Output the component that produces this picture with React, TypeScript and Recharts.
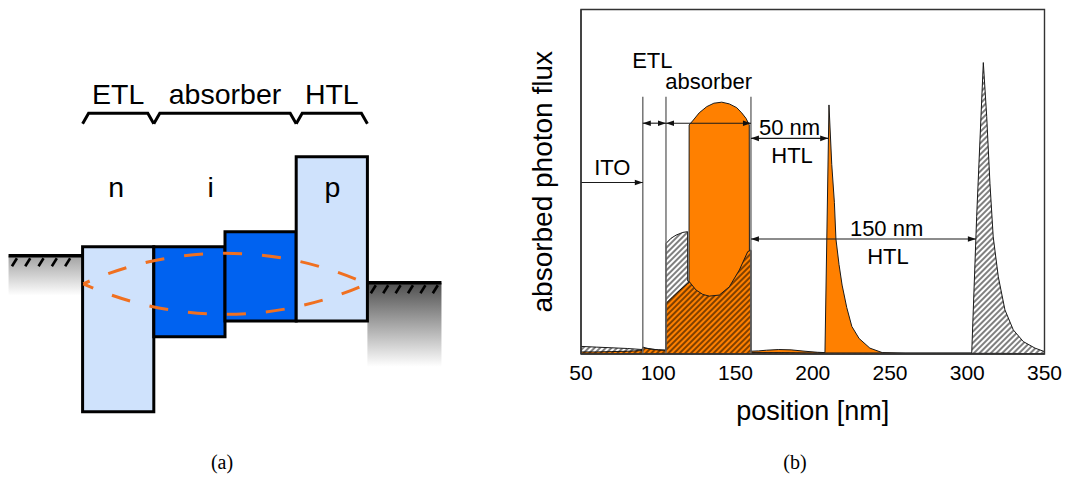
import React from 'react';
import {
  ComposedChart,
  Area,
  XAxis,
  YAxis,
  ReferenceArea,
  ReferenceLine,
  ReferenceDot,
  Label,
} from 'recharts';

const SANS = '"Liberation Sans", Arial, Helvetica, sans-serif';
const SERIF = '"Liberation Serif", "Times New Roman", serif';

// ---------------- (a) energy levels of the n-i-p stack ----------------
// x: layer index units, y: energy in eV
const layerStart = [0, 1, 2, 3];
const layerEnd = [1, 2, 3, 4];
const layerUpper = [-4.29, -4.29, -4.09, -3.09];
const layerLower = [-6.49, -5.49, -5.28, -5.28];
const layerIsAbsorber = [false, true, true, false];

const stackNames = ['ETL', 'absorber', 'HTL'];
const stackStart = [0, 1, 3];
const stackEnd = [1, 3, 4];

const dopingNames = ['n', 'i', 'p'];
const dopingPos = [0.47, 1.8, 3.51];
const dopingLevel = -3.627;

const contactStart = [-1.04, 4];
const contactEnd = [0, 5.04];
const contactFermi = [-4.41, -4.77];
const contactShadeTo = [-4.94, -5.89];

const modeStart = 0.01;
const modeEnd = 3.99;
const modeUpper = -4.377;
const modeLower = -5.191;

const braceUpper = -2.511;
const braceLower = -2.649;

// ---------------- (b) absorbed photon flux vs. position ----------------
const positionTicks = [50, 100, 150, 200, 250, 300, 350];
const interfaces = [90, 105, 160];
const interfaceTop = 0.747;

// 50 nm HTL (orange)
const thinHtlPos = [
  50, 60, 70, 80, 89.5, 90, 92, 96, 100, 104.9, 105, 109.3, 113.6, 119.0, 119.9, 120.0,
  122.7, 126.5, 131.4, 136, 141.1, 146, 150.8, 154, 156.8, 158.9, 159.0, 160.0, 160.01,
  165, 170, 178, 186, 195, 203, 207.9, 210.5, 212.3, 214.0, 215.0, 217, 219, 222, 225.3,
  230, 237, 245, 260, 280, 300, 320, 350,
];
const thinHtlFlux = [
  0.006, 0.006, 0.007, 0.008, 0.01, 0.02, 0.017, 0.014, 0.012, 0.011, 0.147, 0.166, 0.184,
  0.205, 0.207, 0.665, 0.679, 0.7, 0.718, 0.728, 0.731, 0.726, 0.715, 0.7, 0.684, 0.665,
  0.3, 0.3, 0.008, 0.009, 0.011, 0.013, 0.012, 0.008, 0.005, 0.004, 0.723, 0.55, 0.44,
  0.334, 0.26, 0.2, 0.135, 0.08, 0.045, 0.017, 0.004, 0.002, 0.002, 0.002, 0.002, 0.001,
];

// 150 nm HTL (hatched)
const thickHtlPos = [
  50, 60, 70, 80, 89.5, 90, 92, 96, 100, 104.9, 105, 108.3, 111.5, 115.9, 119.0, 119.05,
  120.1, 124.4, 128.8, 133.0, 139.5, 146.0, 152.5, 157.9, 160.0, 160.01, 180, 200, 250,
  302.9, 306.1, 310.4, 312.6, 314.7, 316.8, 320.1, 324.4, 329.8, 336.3, 343.9, 350,
];
const thickHtlFlux = [
  0.022, 0.02, 0.018, 0.016, 0.013, 0.02, 0.017, 0.014, 0.012, 0.011, 0.321, 0.336, 0.345,
  0.353, 0.355, 0.212, 0.21, 0.186, 0.173, 0.168, 0.171, 0.195, 0.244, 0.297, 0.302, 0.004,
  0.004, 0.003, 0.003, 0.003, 0.4, 0.846, 0.689, 0.495, 0.34, 0.224, 0.128, 0.07, 0.036,
  0.017, 0.007,
];

// thickness arrows
const spanFrom = [50, 90, 105, 160, 160];
const spanTo = [90, 105, 160, 210, 305.6];
const spanLevel = [0.498, 0.67, 0.67, 0.626, 0.334];
const spanHeads = ['end', 'both', 'both', 'both', 'both'];

const noteText = ['ITO', 'ETL', 'absorber', '50 nm', 'HTL', '150 nm', 'HTL'];
const noteX = [70.3, 96.2, 132.65, 185.0, 186.6, 247.8, 248.7];
const noteY = [0.5196, 0.829, 0.768, 0.636, 0.555, 0.3425, 0.261];

const fluxRows = [
  ...thinHtlPos.map((x, i) => ({ x, thin: thinHtlFlux[i], thick: null as number | null })),
  ...thickHtlPos.map((x, i) => ({ x, thin: null as number | null, thick: thickHtlFlux[i] })),
].sort((a, b) => a.x - b.x);

const bandRows = layerStart.map((x, i) => ({ x, e: layerUpper[i] }));

// ---------------- shapes ----------------
const LIGHT_BLUE = '#cfe2fc';
const DARK_BLUE = '#0062f0';
const ORANGE = '#ff8000';
const MODE_ORANGE = '#f07020';

const contactShape = (gradient: string, ticks: number, pitch: number) => (p: any) => {
  const { x, y, width, height } = p;
  const marks = [];
  for (let k = 0; k < ticks; k++) {
    const tx = x + 3.4 + k * pitch;
    marks.push(
      <line key={k} x1={tx} y1={y + 10.5} x2={tx + 5} y2={y + 2.5} stroke="#000" strokeWidth={2.6} />
    );
  }
  return (
    <g>
      <rect x={x} y={y} width={width} height={height} fill={`url(#${gradient})`} />
      <line x1={x} y1={y} x2={x + width} y2={y} stroke="#000" strokeWidth={3.6} />
      {marks}
    </g>
  );
};

const lensShape = (p: any) => {
  const { x, y, width, height } = p;
  const cy = y + height / 2;
  const s = height / 2;
  const R = (width * width) / 4 / (2 * s) + s / 2;
  const d = `M${x},${cy} A${R},${R} 0 0 1 ${x + width},${cy} A${R},${R} 0 0 1 ${x},${cy}`;
  return (
    <path
      d={d}
      fill="none"
      stroke={MODE_ORANGE}
      strokeWidth={3}
      strokeDasharray="19 20"
      strokeDashoffset={12}
    />
  );
};

const braceShape = (text: string) => (p: any) => {
  const { x, y, width, height } = p;
  return (
    <g>
      <path
        d={`M${x},${y + height} L${x + 6},${y} L${x + width - 6},${y} L${x + width},${y + height}`}
        fill="none"
        stroke="#000"
        strokeWidth={3}
      />
      <text x={x + width / 2} y={y - 9.3} textAnchor="middle" fontSize={28.5} fontFamily={SANS} fill="#000">
        {text}
      </text>
    </g>
  );
};

const textShape = (text: string, size: number) => (p: any) => (
  <text x={p.cx} y={p.cy} textAnchor="middle" fontSize={size} fontFamily={SANS} fill="#000">
    {text}
  </text>
);

const arrowShape = (heads: string) => (p: any) => {
  const { x1, y1, x2, y2 } = p;
  const L = 8;
  const W = 2.8;
  const dir = x2 >= x1 ? 1 : -1;
  return (
    <g>
      <line x1={x1} y1={y1} x2={x2} y2={y2} stroke="#1a1a1a" strokeWidth={1.1} />
      {heads === 'both' && (
        <polygon points={`${x1},${y1} ${x1 + dir * L},${y1 - W} ${x1 + dir * L},${y1 + W}`} fill="#111" />
      )}
      <polygon points={`${x2},${y2} ${x2 - dir * L},${y2 - W} ${x2 - dir * L},${y2 + W}`} fill="#111" />
    </g>
  );
};

const xAxisTitle = (p: any) => {
  const vb = p.viewBox;
  return (
    <text x={vb.x + vb.width / 2} y={vb.y + 66} textAnchor="middle" fontSize={27} fontFamily={SANS} fill="#000">
      position [nm]
    </text>
  );
};

const yAxisTitle = (p: any) => {
  const vb = p.viewBox;
  const cx = vb.x + 21;
  const cy = vb.y + vb.height / 2;
  return (
    <text
      x={cx}
      y={cy}
      transform={`rotate(-90 ${cx} ${cy})`}
      textAnchor="middle"
      dominantBaseline="central"
      fontSize={28}
      fontFamily={SANS}
      fill="#000"
    >
      absorbed photon flux
    </text>
  );
};

function BandDiagram() {
  return (
    <ComposedChart width={450} height={477} data={bandRows} margin={{ top: 0, right: 0, bottom: 0, left: 0 }}>
      <XAxis type="number" dataKey="x" domain={[-1.16, 5.16]} allowDataOverflow hide />
      <YAxis type="number" dataKey="e" domain={[-7.36, -1]} allowDataOverflow hide />
      {contactStart.map((x, i) => (
        <ReferenceArea
          key={`c${i}`}
          x1={x}
          x2={contactEnd[i]}
          y1={contactShadeTo[i]}
          y2={contactFermi[i]}
          shape={contactShape(i === 0 ? 'contactLeft' : 'contactRight', i === 0 ? 5 : 6, i === 0 ? 13.3 : 12.4)}
        />
      ))}
      {layerStart.map((x, i) => (
        <ReferenceArea
          key={`l${i}`}
          x1={x}
          x2={layerEnd[i]}
          y1={layerLower[i]}
          y2={layerUpper[i]}
          fill={layerIsAbsorber[i] ? DARK_BLUE : LIGHT_BLUE}
          fillOpacity={1}
          stroke="#000"
          strokeWidth={3}
        />
      ))}
      <ReferenceArea x1={modeStart} x2={modeEnd} y1={modeLower} y2={modeUpper} shape={lensShape} />
      {stackNames.map((name, i) => (
        <ReferenceArea
          key={`b${i}`}
          x1={stackStart[i]}
          x2={stackEnd[i]}
          y1={braceLower}
          y2={braceUpper}
          shape={braceShape(name)}
        />
      ))}
      {dopingNames.map((name, i) => (
        <ReferenceDot key={`d${i}`} x={dopingPos[i]} y={dopingLevel} shape={textShape(name, 28.5)} />
      ))}
    </ComposedChart>
  );
}

function FluxChart() {
  return (
    <ComposedChart
      width={596}
      height={477}
      data={fluxRows}
      margin={{ top: 9.5, right: 21.5, bottom: 0, left: 51 }}
    >
      <XAxis
        type="number"
        dataKey="x"
        domain={[50, 350]}
        ticks={positionTicks}
        interval={0}
        allowDataOverflow
        height={123}
        tickSize={0}
        tickMargin={11.1}
        tickLine={false}
        axisLine={{ stroke: '#333', strokeWidth: 1.4 }}
        tick={{ fontSize: 21, fill: '#000', fontFamily: SANS }}
      >
        <Label content={xAxisTitle} />
      </XAxis>
      <YAxis
        type="number"
        domain={[0, 1]}
        allowDataOverflow
        width={60}
        tick={false}
        tickLine={false}
        axisLine={{ stroke: '#333', strokeWidth: 1.4 }}
      >
        <Label content={yAxisTitle} />
      </YAxis>
      <Area
        type="linear"
        dataKey="thin"
        connectNulls
        fill={ORANGE}
        fillOpacity={1}
        stroke="#1a1a1a"
        strokeWidth={1}
        dot={false}
        activeDot={false}
        isAnimationActive={false}
      />
      <Area
        type="linear"
        dataKey="thick"
        connectNulls
        fill="url(#hatch)"
        fillOpacity={1}
        stroke="#1a1a1a"
        strokeWidth={1}
        dot={false}
        activeDot={false}
        isAnimationActive={false}
      />
      <ReferenceArea x1={50} x2={350} y1={0} y2={1} fill="none" stroke="#333" strokeWidth={1.4} />
      {interfaces.map((x) => (
        <ReferenceLine
          key={`i${x}`}
          segment={[
            { x, y: 0 },
            { x, y: interfaceTop },
          ]}
          stroke="#6b6b6b"
          strokeWidth={1.4}
        />
      ))}
      {spanFrom.map((x, i) => (
        <ReferenceLine
          key={`s${i}`}
          segment={[
            { x, y: spanLevel[i] },
            { x: spanTo[i], y: spanLevel[i] },
          ]}
          shape={arrowShape(spanHeads[i])}
        />
      ))}
      {noteText.map((t, i) => (
        <ReferenceDot key={`n${i}`} x={noteX[i]} y={noteY[i]} shape={textShape(t, 22)} />
      ))}
    </ComposedChart>
  );
}

export default function App() {
  return (
    <div style={{ position: 'absolute', left: 0, top: 0, width: 1066, height: 477, background: '#fff' }}>
      <svg width={0} height={0} style={{ position: 'absolute' }} aria-hidden="true">
        <defs>
          <pattern id="hatch" patternUnits="userSpaceOnUse" width={4} height={10} patternTransform="rotate(45)">
            <line x1={2} y1={0} x2={2} y2={10} stroke="#000" strokeWidth={1} />
          </pattern>
          <linearGradient id="contactLeft" x1="0" y1="0" x2="0" y2="1">
            <stop offset="0" stopColor="#a2a2a2" />
            <stop offset="1" stopColor="#ffffff" />
          </linearGradient>
          <linearGradient id="contactRight" x1="0" y1="0" x2="0" y2="1">
            <stop offset="0" stopColor="#4e4e4e" />
            <stop offset="1" stopColor="#ffffff" />
          </linearGradient>
        </defs>
      </svg>
      <div style={{ position: 'absolute', left: 0, top: 0 }}>
        <BandDiagram />
      </div>
      <div style={{ position: 'absolute', left: 470, top: 0 }}>
        <FluxChart />
      </div>
      <div
        style={{
          position: 'absolute',
          left: 222,
          top: 452,
          transform: 'translateX(-50%)',
          fontFamily: SERIF,
          fontSize: 20,
          lineHeight: '20px',
          color: '#000',
        }}
      >
        (a)
      </div>
      <div
        style={{
          position: 'absolute',
          left: 795,
          top: 452,
          transform: 'translateX(-50%)',
          fontFamily: SERIF,
          fontSize: 20,
          lineHeight: '20px',
          color: '#000',
        }}
      >
        (b)
      </div>
    </div>
  );
}
